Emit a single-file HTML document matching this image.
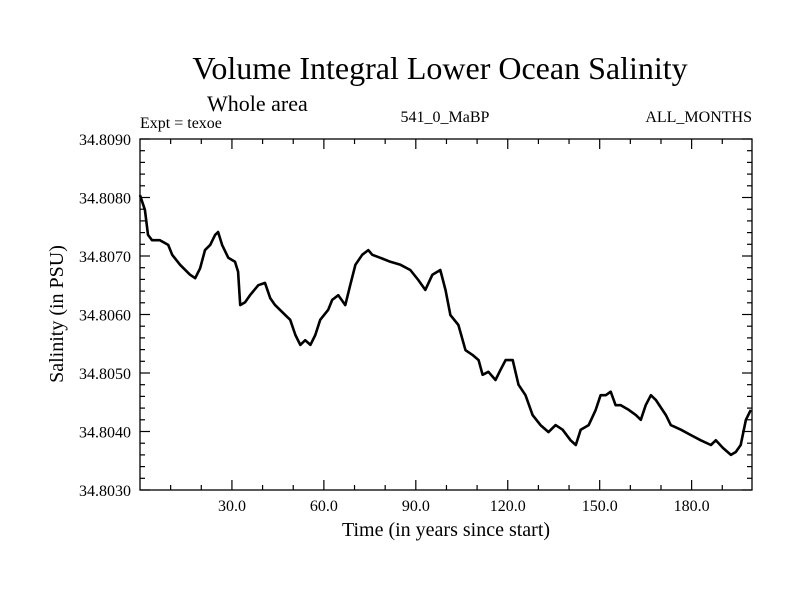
<!DOCTYPE html>
<html><head><meta charset="utf-8"><style>
html,body{margin:0;padding:0;background:#fff}
svg{display:block;font-family:"Liberation Serif",serif}
</style></head><body>
<svg id="chart" width="800" height="600">
<text x="440" y="79" font-size="32" text-anchor="middle">Volume Integral Lower Ocean Salinity</text>
<text x="207" y="111" font-size="22">Whole area</text>
<text x="140" y="128" font-size="16">Expt = texoe</text>
<text x="445" y="122" font-size="16" text-anchor="middle">541_0_MaBP</text>
<text x="752" y="122" font-size="16" text-anchor="end">ALL_MONTHS</text>
<text x="446" y="536" font-size="20" text-anchor="middle">Time (in years since start)</text>
<text transform="translate(63,314) rotate(-90)" font-size="20" text-anchor="middle">Salinity (in PSU)</text>
<g id="axes"></g>
<path id="series" fill="none" stroke="#000" stroke-width="2.6" stroke-linejoin="round"></path>
<rect x="140" y="139" width="612" height="351" fill="none" stroke="#000" stroke-width="1.3"></rect>
</svg>
<script>
const years=[0,1.6,2.6,3.9,6.5,9.2,10.5,13.1,16.3,18,19.6,21.2,22.9,24.5,25.5,26.8,28.8,31,32,32.7,34.3,35.9,38.6,40.8,42.5,44.1,47.4,49,50.7,52.3,53.9,55.6,57.2,58.8,61.4,62.7,64.7,67,68.6,70.3,72.5,74.5,75.8,78.4,81.7,85,88.2,90.8,93.1,95.4,98,99.7,101.3,103.9,106.2,108.5,110.5,111.8,113.7,116,117.6,119.3,121.6,123.5,125.8,128.1,130.7,133.3,135.6,137.9,140.5,142.2,143.8,146.4,148.7,150.3,152,153.6,155.2,156.9,159.5,161.8,163.4,165,166.7,168.3,171.6,173.2,176.5,179.7,183,186.3,187.9,190.2,192.8,194.4,196,197.7,199.3];
const salinity=[34.80804,34.80779,34.80736,34.80727,34.80727,34.80719,34.80702,34.80685,34.80668,34.80662,34.80679,34.80710,34.80719,34.80736,34.80741,34.80719,34.80697,34.80690,34.80673,34.80616,34.80621,34.80633,34.80650,34.80654,34.80628,34.80616,34.80599,34.80591,34.80565,34.80548,34.80556,34.80548,34.80565,34.80591,34.80608,34.80625,34.80633,34.80616,34.80650,34.80685,34.80702,34.80710,34.80702,34.80697,34.80690,34.80685,34.80676,34.80659,34.80642,34.80668,34.80676,34.80642,34.80599,34.80582,34.80539,34.80531,34.80522,34.80497,34.80502,34.80488,34.80505,34.80522,34.80522,34.80480,34.80462,34.80428,34.80411,34.80399,34.80411,34.80403,34.80385,34.80377,34.80403,34.80411,34.80437,34.80462,34.80462,34.80468,34.80445,34.80445,34.80437,34.80428,34.80420,34.80445,34.80462,34.80454,34.80428,34.80411,34.80403,34.80394,34.80385,34.80377,34.80385,34.80372,34.80360,34.80365,34.80377,34.80420,34.80437];
const yTicks=[34.8030,34.8040,34.8050,34.8060,34.8070,34.8080,34.8090];
const yTickLabels=["34.8030","34.8040","34.8050","34.8060","34.8070","34.8080","34.8090"];
const xTicks=[30,60,90,120,150,180];
const xTickLabels=["30.0","60.0","90.0","120.0","150.0","180.0"];
const X0=140,X1=752,Y0=490,Y1=139,XMIN=0,XMAX=199.7,YMIN=34.8030,YMAX=34.8090;
const sx=v=>X0+(v-XMIN)/(XMAX-XMIN)*(X1-X0);
const sy=v=>Y0-(v-YMIN)/(YMAX-YMIN)*(Y0-Y1);
const NS="http://www.w3.org/2000/svg";
const ax=document.getElementById('axes');
function ln(x1,y1,x2,y2,name){const l=document.createElementNS(NS,'line');l.setAttribute('x1',x1);l.setAttribute('y1',y1);l.setAttribute('x2',x2);l.setAttribute('y2',y2);l.setAttribute('stroke','#000');l.setAttribute('stroke-width','1.2');


ax.appendChild(l);}
function tx(x,y,s,anchor,name){const t=document.createElementNS(NS,'text');t.setAttribute('x',x);t.setAttribute('y',y);t.setAttribute('font-size','16');t.setAttribute('text-anchor',anchor);t.textContent=s;


ax.appendChild(t);}
for(let v=10;v<XMAX;v+=10){const x=sx(v),major=v%30===0,L=major?10:5;ln(x,Y0,x,Y0-L,'x-tick');ln(x,Y1,x,Y1+L,'x-tick-top');}
for(let i=0;i<=30;i++){const v=YMIN+i*0.0002,y=sy(v),major=i%5===0,L=major?10:5;ln(X0,y,X0+L,y,'y-tick');ln(X1,y,X1-L,y,'y-tick-right');}
xTicks.forEach((v,i)=>tx(sx(v),511,xTickLabels[i],'middle','x-tick-label'));
yTicks.forEach((v,i)=>tx(131,sy(v)+6,yTickLabels[i],'end','y-tick-label'));
document.getElementById('series').setAttribute('d',years.map((y,i)=>(i?'L':'M')+sx(y).toFixed(1)+','+sy(salinity[i]).toFixed(1)).join(''));
</script>
</body></html>
